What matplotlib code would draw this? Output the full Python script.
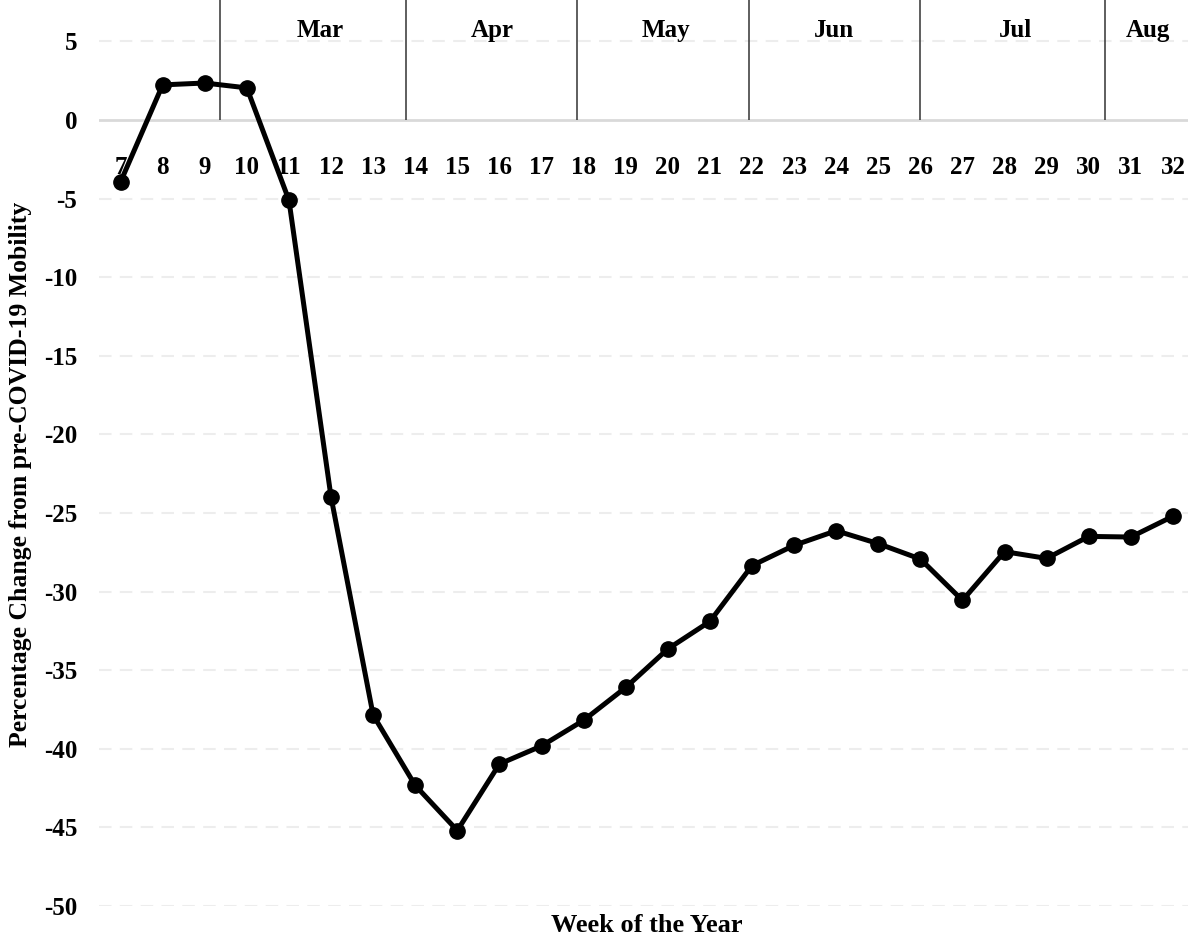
import matplotlib.pyplot as plt

weeks = list(range(7, 33))
mobility = [-3.94, 2.23, 2.35, 2.04, -5.1, -23.98, -37.85, -42.33, -45.2, -40.97,
            -39.82, -38.19, -36.1, -33.65, -31.9, -28.35, -27.06, -26.13, -26.95,
            -27.93, -30.56, -27.46, -27.89, -26.49, -26.53, -25.21]

months = ['Mar', 'Apr', 'May', 'Jun', 'Jul', 'Aug']
month_bounds = [9.36, 13.78, 17.84, 21.93, 26.0, 30.38]
month_centers = [11.75, 15.83, 19.96, 23.95, 28.25, 31.4]

yticks = list(range(5, -55, -5))

plt.rcParams['font.family'] = ['Liberation Serif', 'DejaVu Serif']
plt.rcParams['font.weight'] = 'bold'

fig = plt.figure(figsize=(11.88, 9.39), dpi=100)
W, H = 1188, 939
left = 99.5 / W
right = 1194 / W
bottom = (H - 906) / H
ax = fig.add_axes([left, bottom, right - left, 1 - bottom])

ax.set_xlim(6.5, 32.5)
ax.set_ylim(-50, 7.63)

# gridlines
for y in yticks:
    if y == 0:
        ax.axhline(0, color='#d9d9d9', lw=2, zorder=1)
    else:
        ax.axhline(y, color='#ededed', lw=1.5, ls=(0, (6, 4)), zorder=1)

# month separators
ax.vlines(month_bounds, 0, 7.63, colors='#333333', lw=1.1, zorder=2)
for m, c in zip(months, month_centers):
    ax.text(c, 5.66, m, ha='center', va='center', fontsize=18, fontweight='bold')

# week labels placed along zero line
for w in weeks:
    ax.text(w, -3.0, str(w), ha='center', va='center', fontsize=18, fontweight='bold')

ax.plot(weeks, mobility, color='black', lw=3.6, marker='o', markersize=11, zorder=3)

ax.set_xticks([])
ax.set_yticks(yticks)
ax.set_yticklabels([str(y) for y in yticks], fontsize=18, fontweight='bold')
ax.tick_params(axis='y', length=0, pad=16)
for s in ax.spines.values():
    s.set_visible(False)

fig.text(21 / W, 1 - 474 / H, 'Percentage Change from pre-COVID-19 Mobility',
         rotation=90, ha='center', va='center', fontsize=18.5, fontweight='bold')
fig.text((99.5 + 1194) / 2 / W, 1 - 925 / H, 'Week of the Year', ha='center',
         va='center', fontsize=19, fontweight='bold')

fig.savefig('out.png', dpi=100)
